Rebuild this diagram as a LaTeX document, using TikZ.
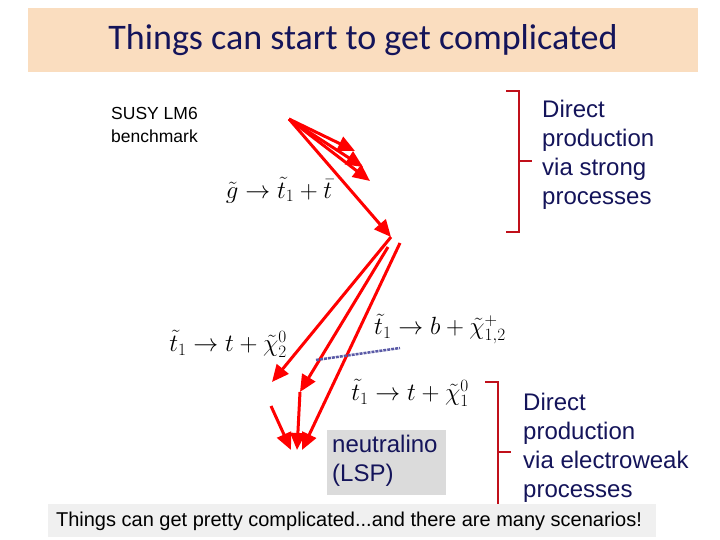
\documentclass[tikz,border=0pt]{standalone}
\usepackage{fontspec}
\setmainfont{Liberation Sans}
\newfontfamily\titlefont{Carlito}
\usetikzlibrary{arrows.meta}
\definecolor{navy}{HTML}{14145A}
\definecolor{peach}{HTML}{FADDBF}
\definecolor{brk}{HTML}{C0101A}
\tikzset{
  red arrow/.style={draw=red, line width=3pt, -{Triangle[length=17pt,width=15pt]}},
  brace/.style={draw=brk, line width=2pt},
  navytext/.style={text=navy, align=left, anchor=north west, inner sep=0pt, font=\fontsize{24}{29}\selectfont},
  formula/.style={inner sep=0pt, font=\fontsize{26}{30}\selectfont}
}
\begin{document}
\begin{tikzpicture}[x=1pt,y=-1pt]
\useasboundingbox (0,0) rectangle (720,540);
\fill[peach] (28,8) rectangle (698,72);
\node[text=navy, font=\titlefont\fontsize{36}{40}\selectfont] (title) at (363,40) {Things can start to get complicated};
\node[anchor=north west, inner sep=0pt, align=left, font=\fontsize{17.5}{23}\selectfont] (lm6) at (111,107) {SUSY LM6\\benchmark};
% formulas
\node[formula] (f1) at (279,190) {$\tilde g\rightarrow\tilde t_1+\bar t$};
\node[formula] (f2) at (228,344) {$\tilde t_1\rightarrow t+\tilde\chi^0_2$};
\node[formula] (f3) at (440,329) {$\tilde t_1\rightarrow b+\tilde\chi^+_{1,2}$};
\node[formula] (f4) at (410,393) {$\tilde t_1\rightarrow t+\tilde\chi^0_1$};
% arrows
\coordinate (g) at (289,119);
\coordinate (s1) at (355,151);
\coordinate (s2) at (363,167);
\coordinate (s3) at (370,181);
\coordinate (t) at (391,237);
\coordinate (b1) at (272,382);
\coordinate (b2s) at (388,247);
\coordinate (b2) at (300,392);
\coordinate (b3s) at (400,243);
\coordinate (b3) at (302,450);
\coordinate (b4) at (297,450);
\coordinate (b5s) at (271,406);
\coordinate (b5) at (291,450);
\draw[red arrow] (g) -- (s1);
\draw[red arrow] (g) -- (s2);
\draw[red arrow] (g) -- (s3);
\draw[red arrow] (g) -- (t);
\draw[red arrow] (t) -- (b1);
\draw[red arrow] (b2s) -- (b2);
\draw[red arrow] (b3s) -- (b3);
\draw[red arrow] (b2) -- (b4);
\draw[red arrow] (b5s) -- (b5);
\coordinate (d1) at (316,360);
\coordinate (d2) at (400,348);
\draw[draw=blue!30!gray, line width=2.5pt, dash pattern=on 3pt off 1pt] (d1) -- (d2);
% bracket 1
\coordinate (k1a) at (506,91);
\coordinate (k1b) at (519,91);
\coordinate (k1c) at (519,232);
\coordinate (k1d) at (506,232);
\coordinate (k1m) at (519,161);
\coordinate (k1n) at (532,161);
\draw[brace] (k1a) -- (k1b) -- (k1c) -- (k1d);
\draw[brace] (k1m) -- (k1n);
\node[navytext] (t1) at (542,100) {Direct\\production\\via strong\\processes};
% bracket 2
\coordinate (k2a) at (485,382);
\coordinate (k2b) at (498,382);
\coordinate (k2c) at (498,510);
\coordinate (k2m) at (498,452);
\coordinate (k2n) at (511,452);
\draw[brace] (k2a) -- (k2b) -- (k2c);
\draw[brace] (k2m) -- (k2n);
\node[navytext] (t2) at (523,393) {Direct\\production\\via electroweak\\processes};
% neutralino
\node[fill=gray!28, minimum width=119pt, minimum height=65pt, anchor=north west, inner sep=0pt] (nbox) at (327,430) {};
\node[navytext] (nt) at (332,435) {neutralino\\(LSP)};
% bottom banner
\node[fill=gray!12, minimum width=608pt, minimum height=33pt, anchor=north west, inner sep=0pt] (ban) at (48,504) {};
\node[font=\fontsize{20}{22}\selectfont, inner sep=0pt] (bt) at (349,521) {Things can get pretty complicated...and there are many scenarios!};
\end{tikzpicture}
\end{document}
